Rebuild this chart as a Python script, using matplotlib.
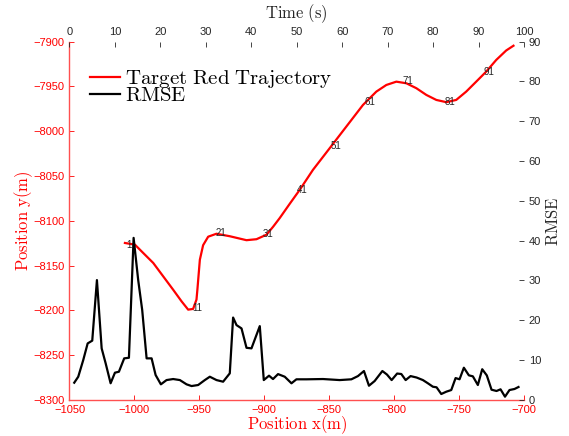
import matplotlib
matplotlib.use('Agg')
import matplotlib.pyplot as plt
import numpy as np

plt.rcParams['font.family'] = ['Liberation Sans', 'DejaVu Sans']
plt.rcParams['mathtext.fontset'] = 'cm'

# target trajectory (position in m)
traj_x = [-1007.3, -999.6, -993.2, -985.5, -977.8, -970.2, -963.7, -958.6, -954.8, -952.2,
          -951.5, -949.6, -947.1, -943.2, -936.8, -926.5, -913.7, -906.0, -898.3, -893.2,
          -888.1, -880.4, -872.7, -862.5, -849.6, -836.8, -824.0, -813.7, -806.0, -798.3,
          -790.6, -782.9, -775.2, -767.5, -759.8, -752.2, -744.5, -736.8, -729.1, -721.4,
          -713.7, -708.1]
traj_y = [-8124.8, -8126.7, -8136.0, -8147.1, -8162.1, -8176.9, -8189.9, -8199.2, -8198.4, -8188.0,
          -8176.9, -8143.5, -8127.3, -8117.8, -8114.5, -8117.3, -8121.7, -8120.6, -8115.6, -8106.7,
          -8097.0, -8081.1, -8065.5, -8043.2, -8019.0, -7994.9, -7970.8, -7955.9, -7948.5, -7944.8,
          -7946.6, -7952.1, -7959.6, -7965.2, -7967.7, -7965.2, -7955.9, -7944.8, -7933.6, -7920.6,
          -7910.0, -7904.7]

# step numbers written along the trajectory
step_labels = ['1', '11', '21', '31', '41', '51', '61', '71', '81', '91']
step_x = [-1006.5, -955.2, -937.5, -900.9, -875.2, -849.1, -822.7, -793.7, -761.2, -731.2]
step_y = [-8126.7, -8197.3, -8113.7, -8114.8, -8065.5, -8016.4, -7967.7, -7944.0, -7967.1, -7934.3]

# RMSE over time
t = [1.05, 1.93, 3.03, 4.0, 5.01, 6.04, 7.08, 7.96, 9.05, 10.0,
     10.88, 12.04, 13.08, 14.11, 15.12, 16.0, 16.97, 18.07, 18.95, 20.11,
     21.36, 22.81, 24.29, 25.76, 26.86, 28.31, 29.78, 30.88, 32.35, 33.8,
     35.27, 36.0, 36.75, 37.85, 38.95, 40.04, 41.87, 42.75, 43.9, 44.78,
     45.89, 47.36, 48.84, 49.93, 52.13, 55.78, 59.45, 62.02, 63.47, 64.79,
     65.89, 67.14, 68.84, 69.85, 70.88, 72.09, 73.01, 73.96, 75.05, 76.37,
     77.76, 78.86, 79.96, 80.77, 81.8, 82.9, 84.0, 84.95, 85.82, 86.77,
     87.87, 88.75, 89.85, 90.81, 91.82, 92.86, 93.96, 94.84, 95.82, 96.81,
     97.91, 98.79]
rmse = [4.34, 5.84, 10.03, 14.2, 14.9, 30.1, 12.96, 9.2, 4.2, 6.85,
        7.1, 10.45, 10.6, 40.7, 30.1, 22.6, 10.45, 10.45, 6.27, 3.93,
        5.0, 5.26, 5.0, 3.93, 3.5, 3.76, 5.0, 5.84, 5.0, 4.59,
        6.69, 20.7, 18.8, 17.97, 13.1, 12.96, 18.55, 5.0, 6.1, 5.26,
        6.5, 5.84, 4.19, 5.19, 5.19, 5.26, 5.0, 5.19, 6.0, 7.27,
        3.58, 4.76, 7.27, 6.39, 5.0, 6.64, 6.52, 5.0, 6.0, 5.64,
        5.0, 4.19, 3.33, 3.18, 1.5, 2.08, 2.5, 5.5, 5.2, 8.1,
        6.19, 5.94, 3.76, 7.72, 6.17, 2.58, 2.26, 2.68, 0.83, 2.5,
        2.76, 3.26]

red = '#ff0000'
gray = '#262626'
pos = [0.1221, 0.0826, 0.7988, 0.8222]

fig = plt.figure(figsize=(5.69, 4.36), dpi=100)
ax = fig.add_axes(pos)
ax2 = fig.add_axes(pos, frameon=False)

l1, = ax.plot(traj_x, traj_y, color=red, lw=1.6, solid_joinstyle='round')
for s, x, y in zip(step_labels, step_x, step_y):
    ax.text(x, y, s, fontsize=7, color=gray, ha='left', va='center')
ax.set_xlim(-1050, -700)
ax.set_ylim(-8300, -7900)
ax.set_xticks(np.arange(-1050, -699, 50))
ax.set_yticks(np.arange(-8300, -7899, 50))
ax.tick_params(direction='in', length=3.5, width=0.6, colors=red, labelsize=8)
for side in ['top', 'right']:
    ax.spines[side].set_visible(False)
for side in ['left', 'bottom']:
    ax.spines[side].set_color('#ff5050')
    ax.spines[side].set_linewidth(1.0)
ax.set_xlabel(r'$\mathrm{Position\ x(m)}$', fontsize=12, color=red, labelpad=-1)
ax.set_ylabel(r'$\mathrm{Position\ y(m)}$', fontsize=12, color=red, labelpad=-1)

l2, = ax2.plot(t, rmse, color='k', lw=1.6, solid_joinstyle='round')
ax2.set_xlim(0, 100)
ax2.set_ylim(0, 90)
ax2.set_xticks(np.arange(0, 101, 10))
ax2.set_yticks(np.arange(0, 91, 10))
ax2.xaxis.tick_top()
ax2.yaxis.tick_right()
ax2.xaxis.set_label_position('top')
ax2.yaxis.set_label_position('right')
ax2.tick_params(direction='in', length=3.5, width=0.6, colors=gray, labelsize=8)
ax2.spines['top'].set_visible(True)
ax2.spines['right'].set_visible(True)
for side in ['top', 'right']:
    ax2.spines[side].set_color('#555555')
    ax2.spines[side].set_linewidth(1.0)
ax2.set_xlabel(r'$\mathrm{Time\ (s)}$', fontsize=12, color=gray, labelpad=6)
ax2.set_ylabel(r'$\mathrm{RMSE}$', fontsize=12, color=gray, labelpad=3)

ax2.legend([l1, l2], [r'$\mathrm{Target\ Red\ Trajectory}$', r'$\mathrm{RMSE}$'],
           loc='upper left', bbox_to_anchor=(0.045, 0.925), frameon=False,
           fontsize=15, borderpad=0, borderaxespad=0, handlelength=1.45,
           handletextpad=0.25, labelspacing=-0.2)

plt.savefig('out.png', dpi=100)
